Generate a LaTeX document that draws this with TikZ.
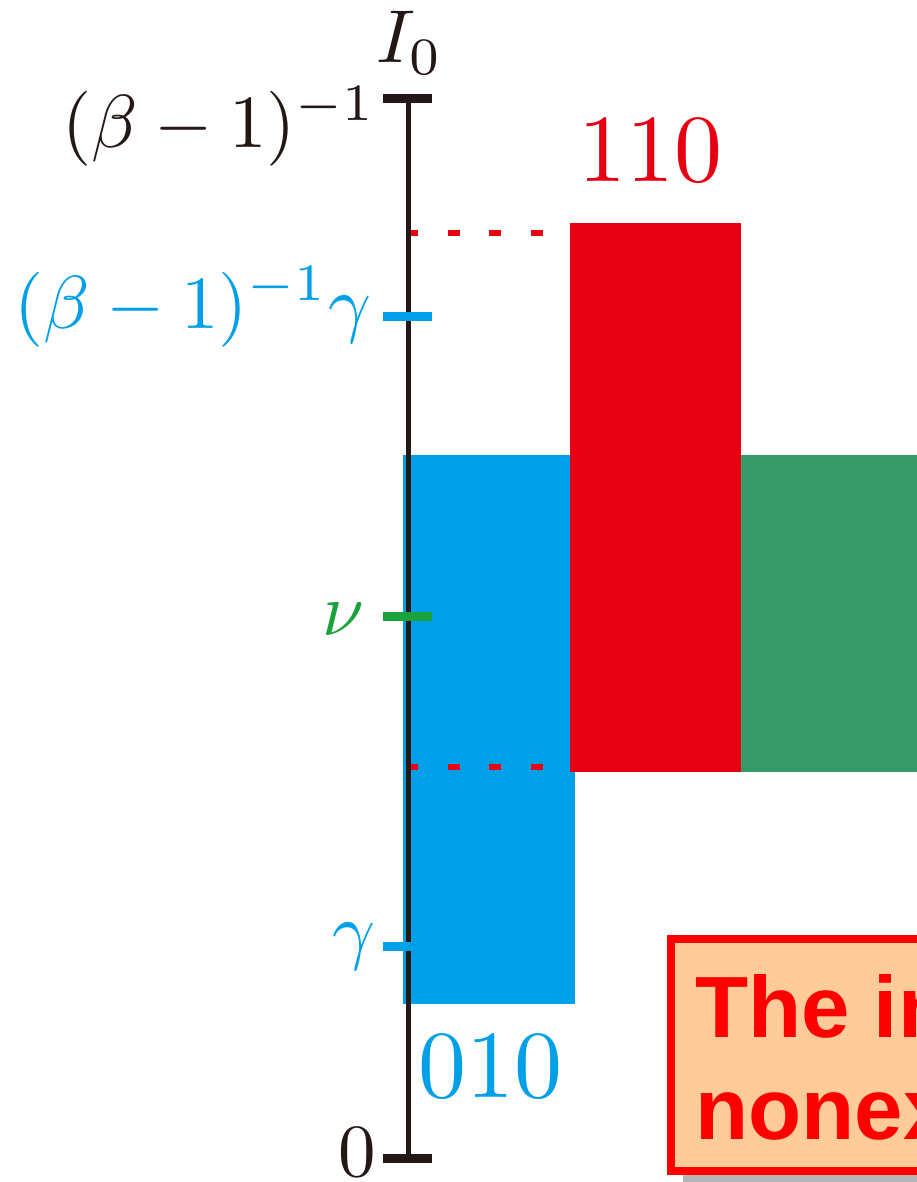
\documentclass[tikz,border=0pt]{standalone}
\usepackage{fontspec}
\newfontfamily\boxfont{Liberation Sans}
\definecolor{axisblack}{HTML}{231815}
\definecolor{myblue}{HTML}{00A0E9}
\definecolor{myred}{HTML}{E60012}
\definecolor{mygreen}{HTML}{359968}
\definecolor{nugreen}{HTML}{1AA33C}
\definecolor{boxfill}{HTML}{FFCC99}
\definecolor{boxred}{HTML}{FF0000}
\definecolor{shadowgray}{HTML}{B4B4B4}
\begin{document}
\begin{tikzpicture}[x=1pt,y=-1pt,
  axislabel/.style={inner sep=0pt,scale=7.5},
  codelabel/.style={inner sep=0pt,scale=9.6},
  tickmark/.style={line width=9pt},
  guide/.style={myred,line width=6pt,dash pattern=on 12pt off 29.5pt}]
\useasboundingbox (0,0) rectangle (916,1182);
% bars
\fill[myblue] (403,455) rectangle (575,1004);
\fill[myred] (570,223) rectangle (741,772);
\fill[mygreen] (741,455) rectangle (930,772);
% dotted guides
\coordinate (g1a) at (406,233); \coordinate (g1b) at (570,233);
\coordinate (g2a) at (406,767); \coordinate (g2b) at (570,767);
\draw[guide] (g1a) -- (g1b);
\draw[guide] (g2a) -- (g2b);
% axis
\coordinate (top) at (408,99);
\coordinate (bot) at (408,1158);
\draw[axisblack,line width=5pt] (top) -- (bot);
\draw[axisblack,tickmark] (383,99) -- (432,99);
\draw[axisblack,tickmark] (383,1158) -- (432,1158);
\draw[myblue,tickmark] (383,316) -- (432,316);
\draw[nugreen,tickmark] (383,616) -- (432,616);
\draw[myblue,tickmark] (383,946) -- (432,946);
% axis labels
\node[axislabel,anchor=base,text=axisblack] (i0) at (410,63) {$I_0$};
\node[axislabel,anchor=base east,text=axisblack] (ltop) at (378,148) {$(\beta-1)^{-1}$};
\node[axislabel,anchor=base east,text=myblue] (lbg) at (373,328) {$(\beta-1)^{-1}\gamma$};
\node[axislabel,anchor=base east,text=nugreen] (lnu) at (366,635) {$\nu$};
\node[axislabel,anchor=base east,text=myblue] (lg) at (377,955) {$\gamma$};
\node[axislabel,anchor=base east,text=axisblack] (lzero) at (377,1176) {$0$};
% code labels
\node[codelabel,anchor=base,text=myred] (c110) at (650,182) {110};
\node[codelabel,anchor=base,text=myblue] (c010) at (490,1097) {010};
% notice box
\fill[shadowgray] (683,1171) rectangle (940,1190);
\draw[boxred,line width=8pt,fill=boxfill] (671,939) rectangle (940,1171);
\node[anchor=base west,inner sep=0pt,text=boxred,font=\boxfont\bfseries\fontsize{87}{102}\selectfont] (t1) at (695,1037) {The in};
\node[anchor=base west,inner sep=0pt,text=boxred,font=\boxfont\bfseries\fontsize{87}{102}\selectfont] (t2) at (695,1139) {nonex};
\end{tikzpicture}
\end{document}
